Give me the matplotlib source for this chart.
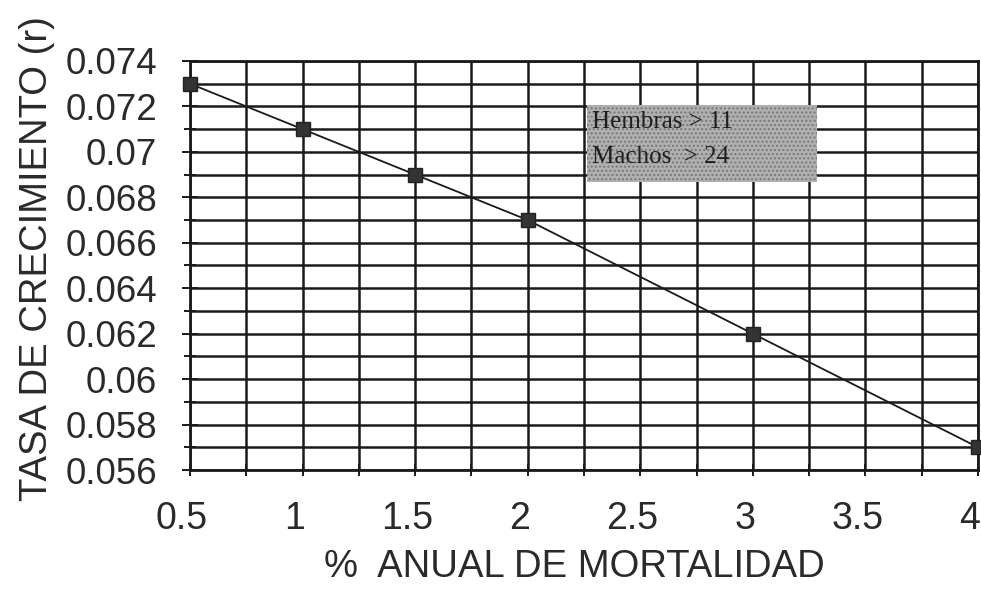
import matplotlib
matplotlib.use("Agg")
import matplotlib.pyplot as plt
import matplotlib.transforms as mtransforms
from matplotlib.patches import Rectangle
from matplotlib.ticker import MultipleLocator

# Data
mortalidad = [0.5, 1, 1.5, 2, 3, 4]
tasa = [0.073, 0.071, 0.069, 0.067, 0.062, 0.057]
x_ticks = [0.5, 1, 1.5, 2, 2.5, 3, 3.5, 4]
x_ticklabels = ["0.5", "1", "1.5", "2", "2.5", "3", "3.5", "4"]
y_ticks = [0.056, 0.058, 0.06, 0.062, 0.064, 0.066, 0.068, 0.07, 0.072, 0.074]
y_ticklabels = ["0.056", "0.058", "0.06", "0.062", "0.064", "0.066", "0.068", "0.07", "0.072", "0.074"]
legend_lines = ["Hembras > 11", "Machos  > 24"]
x_label = "%  ANUAL DE MORTALIDAD"
y_label = "TASA DE CRECIMIENTO (r)"

W, H = 981, 590
fig = plt.figure(figsize=(W / 100, H / 100), dpi=100)
fig.patch.set_facecolor("white")

left, right, top, bottom = 190, 978, 61, 470
ax = fig.add_axes([left / W, 1 - bottom / H, (right - left) / W, (bottom - top) / H])

ink = "#1a1a1a"
font = "Liberation Sans"

ax.set_xlim(0.5, 4)
ax.set_ylim(0.056, 0.074)
ax.set_xticks(x_ticks)
ax.set_xticklabels(x_ticklabels, fontsize=27, family=font, color="#2a2a2a")
ax.set_yticks(y_ticks)
ax.set_yticklabels(y_ticklabels, fontsize=26.5, family=font, color="#2a2a2a")
ax.xaxis.set_minor_locator(MultipleLocator(0.25))
ax.yaxis.set_minor_locator(MultipleLocator(0.001))

ax.grid(True, which="both", color=ink, linewidth=1.8)
ax.set_axisbelow(True)
ax.tick_params(axis="both", which="both", direction="inout", color=ink, width=1.4)
ax.tick_params(axis="y", which="major", length=12, pad=17.5)
ax.tick_params(axis="y", which="minor", length=9)
ax.tick_params(axis="x", which="major", length=9, pad=18)
ax.tick_params(axis="x", which="minor", length=9)
for sp in ax.spines.values():
    sp.set_color(ink)
    sp.set_linewidth(2.0)

# shift x tick labels slightly left as in the scan
offset = mtransforms.ScaledTranslation(-8 / 100, 0, fig.dpi_scale_trans)
for lab in ax.get_xticklabels():
    lab.set_transform(lab.get_transform() + offset)

ax.plot(mortalidad, tasa, color=ink, linewidth=1.3, marker="s",
        markersize=10, markerfacecolor="#333333", markeredgecolor="#222222",
        clip_on=False, zorder=5)

# legend-like box
box = Rectangle((0.504, 0.704), 0.292, 0.188, transform=ax.transAxes,
                facecolor="#b0b0b0", edgecolor="#777777", hatch="....",
                linewidth=0, zorder=6)
ax.add_patch(box)
ax.text(0.510, 0.836, legend_lines[0], transform=ax.transAxes, fontsize=18,
        family="Liberation Serif", color="#1e1e1e", va="baseline", ha="left", zorder=7)
ax.text(0.510, 0.751, legend_lines[1], transform=ax.transAxes, fontsize=18,
        family="Liberation Serif", color="#1e1e1e", va="baseline", ha="left", zorder=7)

fig.text(574 / W, 1 - 567 / H, x_label, fontsize=27.5, family=font,
         color="#2a2a2a", ha="center", va="center")
fig.text(37 / W, 1 - 259 / H, y_label, fontsize=27.5, family=font,
         color="#2a2a2a", ha="center", va="center", rotation=90)

fig.savefig("out.png", dpi=100)
